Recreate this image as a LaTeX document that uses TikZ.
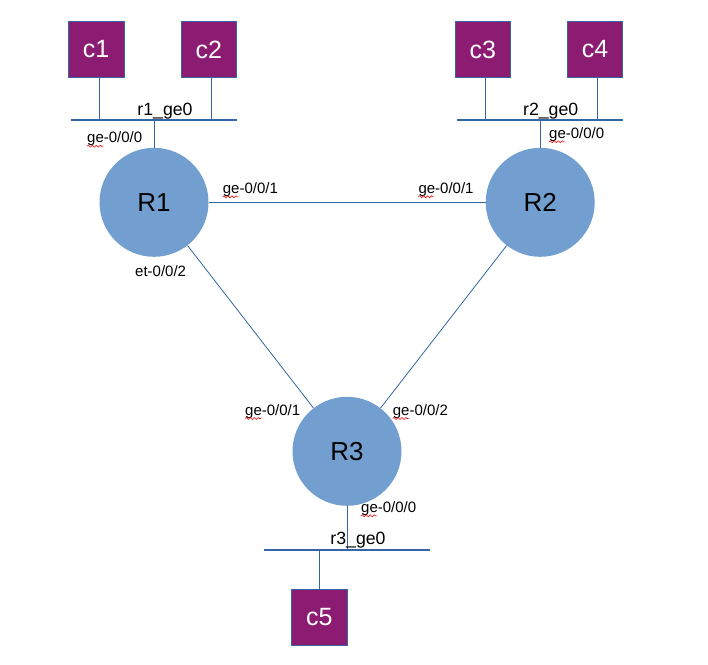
\documentclass[tikz,border=0pt]{standalone}
\usepackage{fontspec}
\setmainfont{Liberation Sans}
\usetikzlibrary{calc,decorations.pathmorphing}
\definecolor{boxpurple}{HTML}{8C1C72}
\definecolor{routerblue}{HTML}{729FCF}
\definecolor{linkblue}{HTML}{3465A4}
\begin{document}
\begin{tikzpicture}[x=1pt,y=-1pt,
  hostbox/.style={rectangle, draw=linkblue, line width=0.6pt, fill=boxpurple,
    minimum width=55.5pt, minimum height=55.5pt, inner sep=0pt,
    text=white, font=\fontsize{25}{30}\selectfont},
  router/.style={circle, fill=routerblue, draw=none, minimum size=109pt,
    inner sep=0pt, font=\fontsize{26}{31}\selectfont},
  link/.style={draw=linkblue, line width=0.8pt},
  bus/.style={draw=linkblue, line width=1.1pt},
  ifl/.style={anchor=base west, inner sep=0pt, font=\fontsize{15}{18}\selectfont},
  busl/.style={anchor=base, inner sep=0pt, font=\fontsize{17.7}{21}\selectfont},
  wavy/.style={draw=red, line width=0.6pt, decorate,
    decoration={snake, amplitude=1pt, segment length=4pt}}]
\useasboundingbox (0,0) rectangle (708,664);

% hosts
\node[hostbox] (c1) at (96.2,49.5) {c1};
\node[hostbox] (c2) at (208.8,49.5) {c2};
\node[hostbox] (c3) at (482.8,49.5) {c3};
\node[hostbox] (c4) at (595,49.5) {c4};
\node[hostbox] (c5) at (319.2,617.3) {c5};

% routers
\node[router] (R1) at (154,202.3) {R1};
\node[router] (R2) at (540.2,202.3) {R2};
\node[router] (R3) at (347,451.3) {R3};

% buses
\coordinate (b1w) at (71,120);
\coordinate (b1e) at (236.7,120);
\coordinate (b2w) at (457.3,120);
\coordinate (b2e) at (622.7,120);
\coordinate (b3w) at (264,550);
\coordinate (b3e) at (430,550);
\draw[bus] (b1w) -- (b1e);
\draw[bus] (b2w) -- (b2e);
\draw[bus] (b3w) -- (b3e);

% bus taps
\coordinate (t1) at (99,120);
\coordinate (t2) at (211,120);
\coordinate (t3) at (485,120);
\coordinate (t4) at (597.7,120);
\coordinate (t5) at (319.3,550);
\coordinate (tr1) at (154,120);
\coordinate (tr2) at (540.2,120);
\coordinate (tr3) at (347,550);
\draw[link] (t1) -- (t1 |- c1.south);
\draw[link] (t2) -- (t2 |- c2.south);
\draw[link] (t3) -- (t3 |- c3.south);
\draw[link] (t4) -- (t4 |- c4.south);
\draw[link] (t5) -- (t5 |- c5.north);
\draw[link] (tr1) -- (R1.north);
\draw[link] (tr2) -- (R2.north);
\draw[link] (tr3) -- (R3.south);

% router links
\draw[link] (R1) -- (R2);
\draw[link] (R1) -- (R3);
\draw[link] (R2) -- (R3);

% bus labels
\node[busl] (l1) at (165,115) {r1\_ge0};
\node[busl] (l2) at (550.7,115) {r2\_ge0};
\node[busl] (l3) at (358,544) {r3\_ge0};

% interface labels
\node[ifl] (i1) at (87,142.7) {ge-0/0/0};
\node[ifl] (i2) at (222.7,193.3) {ge-0/0/1};
\node[ifl] (i3) at (418.3,193.3) {ge-0/0/1};
\node[ifl] (i4) at (549,138.3) {ge-0/0/0};
\node[ifl] (i5) at (135,276.7) {et-0/0/2};
\node[ifl] (i6) at (245,415) {ge-0/0/1};
\node[ifl] (i7) at (392.7,415) {ge-0/0/2};
\node[ifl] (i8) at (361,512.3) {ge-0/0/0};

% spell-check squiggles
\foreach \n in {i1,i2,i3,i4,i6,i7,i8}
  \draw[wavy] ($(\n.base west)+(0,3.5)$) -- ++(16,0);
\end{tikzpicture}
\end{document}
